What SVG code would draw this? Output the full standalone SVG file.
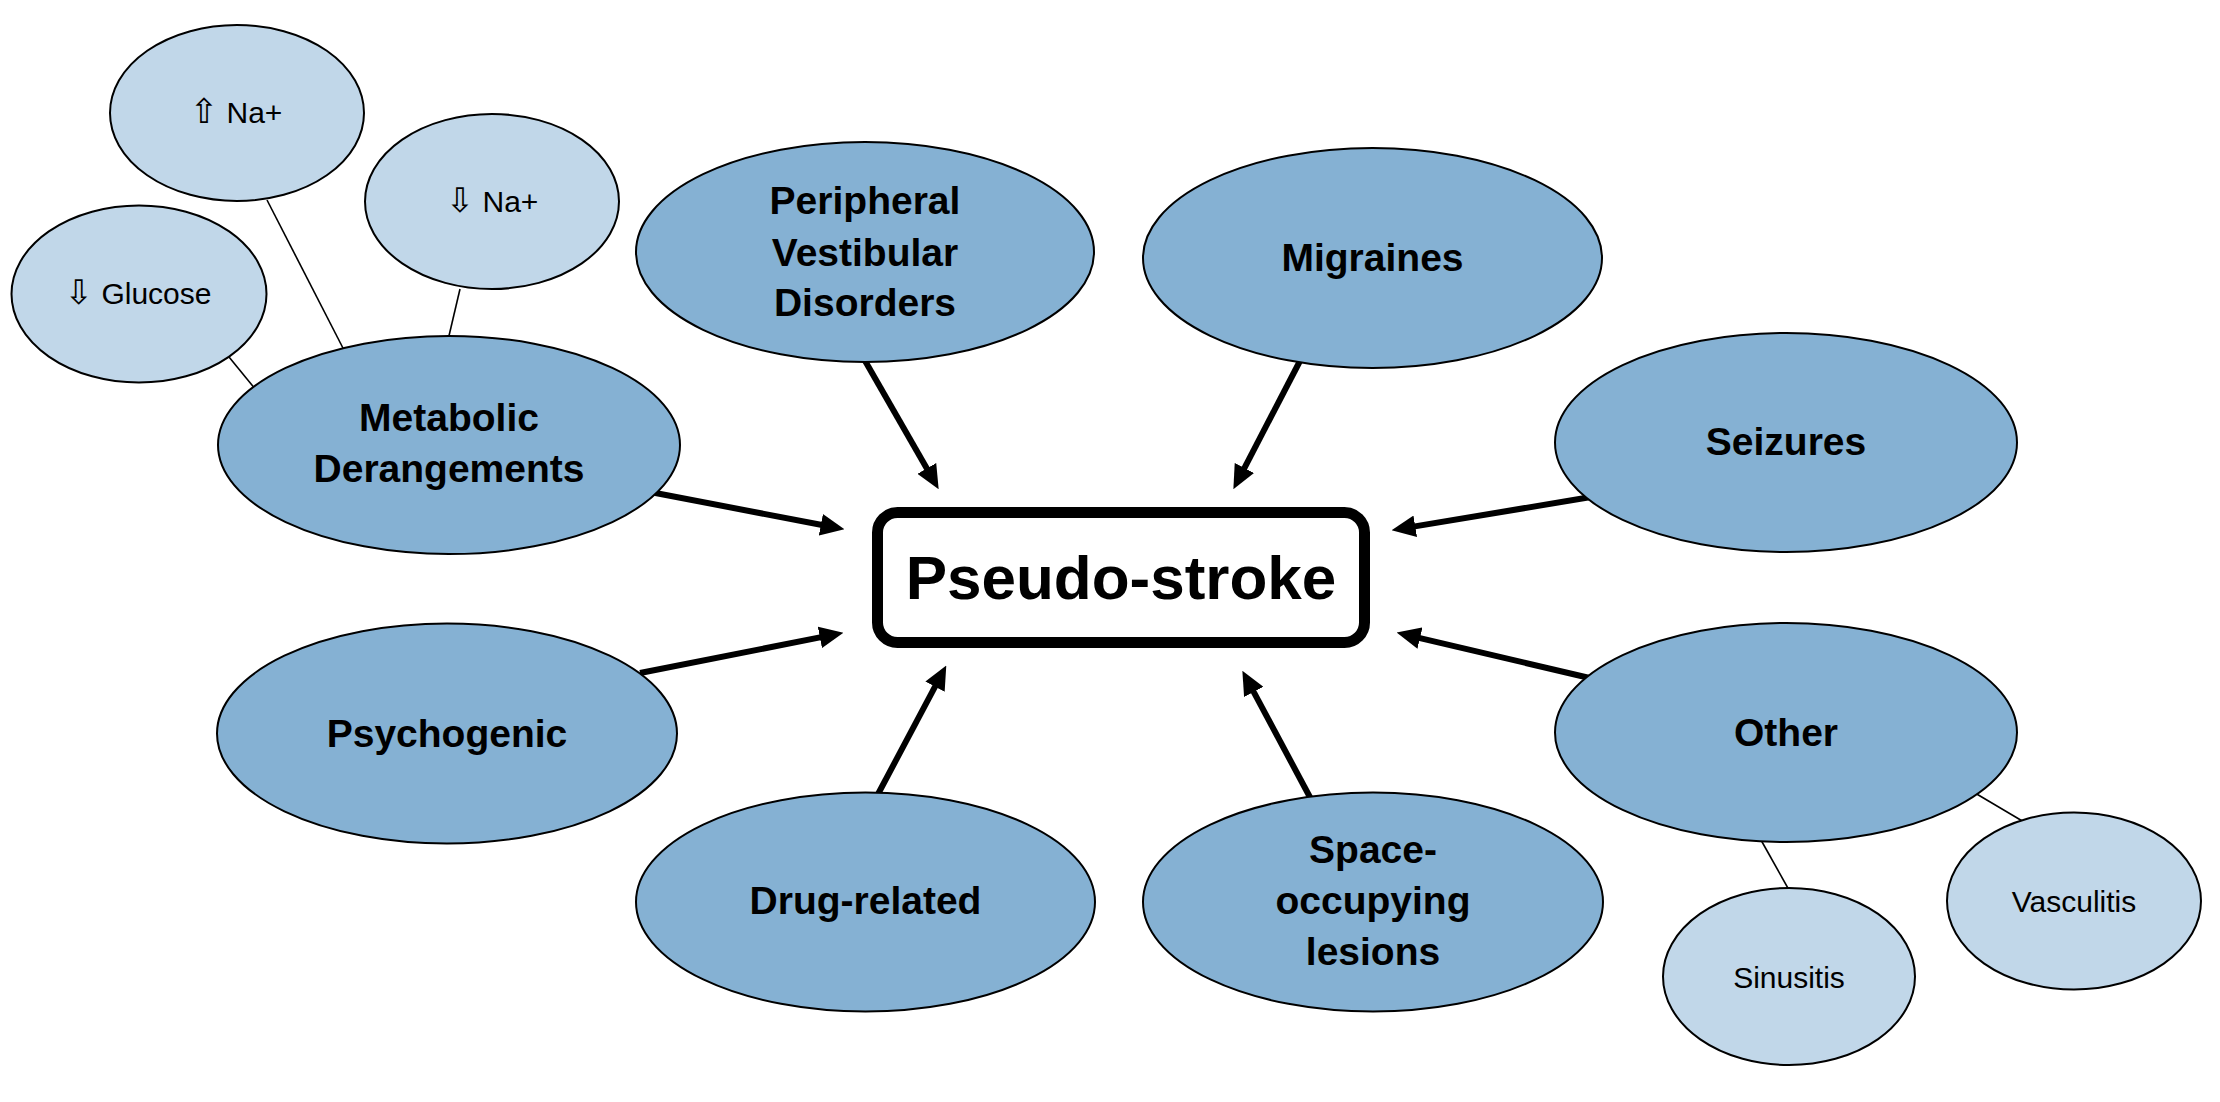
<svg xmlns="http://www.w3.org/2000/svg" width="2220" height="1102" viewBox="0 0 2220 1102">
<style>
.main{fill:#85B1D3;stroke:#000;stroke-width:2}
.sub{fill:#C1D7E9;stroke:#000;stroke-width:2}
.t{font-family:"Liberation Sans","DejaVu Sans",sans-serif;font-weight:bold;font-size:39px;fill:#000;text-anchor:middle}
.s{font-family:"Liberation Sans","DejaVu Sans",sans-serif;font-size:30px;fill:#000;text-anchor:middle}
.g{font-family:"DejaVu Sans",sans-serif;font-size:34px}
.arrow{stroke:#000;stroke-width:6;fill:none}
.thin{stroke:#000;stroke-width:1.6;fill:none}
</style>
<defs>
<marker id="ah" markerUnits="userSpaceOnUse" markerWidth="24" markerHeight="22" viewBox="0 0 22 20" refX="6" refY="10" orient="auto">
<path d="M0,0 L22,10 L0,20 z" fill="#000"/>
</marker>
</defs>
<rect width="2220" height="1102" fill="#fff"/>
<g id="connectors">
<line class="thin" x1="267" y1="200" x2="345" y2="352"/>
<line class="thin" x1="460" y1="289" x2="448" y2="340"/>
<line class="thin" x1="229" y1="357" x2="256" y2="390"/>
<line class="thin" x1="1761" y1="840" x2="1789" y2="890"/>
<line class="thin" x1="1975" y1="793" x2="2024" y2="822"/>
<line class="arrow" x1="645" y1="491" x2="827.3" y2="526" marker-end="url(#ah)"/>
<line class="arrow" x1="640" y1="673" x2="826.3" y2="636.1" marker-end="url(#ah)"/>
<line class="arrow" x1="864" y1="359" x2="930" y2="474.1" marker-end="url(#ah)"/>
<line class="arrow" x1="1301" y1="359" x2="1241.4" y2="473.8" marker-end="url(#ah)"/>
<line class="arrow" x1="1597" y1="496" x2="1408.8" y2="527.4" marker-end="url(#ah)"/>
<line class="arrow" x1="1596" y1="679.5" x2="1413.6" y2="636.6" marker-end="url(#ah)"/>
<line class="arrow" x1="877" y1="796" x2="938.1" y2="680.9" marker-end="url(#ah)"/>
<line class="arrow" x1="1312" y1="801" x2="1250.6" y2="686.1" marker-end="url(#ah)"/>
</g>
<g id="n-na-up"><ellipse class="sub" cx="237" cy="113" rx="127" ry="88"/><text class="s" x="236" y="123"><tspan class="g">⇧</tspan> Na+</text></g>
<g id="n-na-down"><ellipse class="sub" cx="492" cy="201.5" rx="127" ry="87.5"/><text class="s" x="492" y="212"><tspan class="g">⇩</tspan> Na+</text></g>
<g id="n-glucose"><ellipse class="sub" cx="139" cy="294" rx="127.5" ry="88.5"/><text class="s" x="138" y="304"><tspan class="g">⇩</tspan> Glucose</text></g>
<g id="n-metabolic"><ellipse class="main" cx="449" cy="445" rx="231" ry="109"/><text class="t" x="449" y="431">Metabolic</text><text class="t" x="449" y="482">Derangements</text></g>
<g id="n-peripheral"><ellipse class="main" cx="865" cy="252" rx="229" ry="110"/><text class="t" x="865" y="214">Peripheral</text><text class="t" x="865" y="266">Vestibular</text><text class="t" x="865" y="316">Disorders</text></g>
<g id="n-migraines"><ellipse class="main" cx="1372.5" cy="258" rx="229.5" ry="110"/><text class="t" x="1372.5" y="271">Migraines</text></g>
<g id="n-seizures"><ellipse class="main" cx="1786" cy="442.5" rx="231" ry="109.5"/><text class="t" x="1786" y="455">Seizures</text></g>
<g id="n-other"><ellipse class="main" cx="1786" cy="732.5" rx="231" ry="109.5"/><text class="t" x="1786" y="746">Other</text></g>
<g id="n-psychogenic"><ellipse class="main" cx="447" cy="733.5" rx="230" ry="110"/><text class="t" x="447" y="747">Psychogenic</text></g>
<g id="n-drug"><ellipse class="main" cx="865.5" cy="902" rx="229.5" ry="109.5"/><text class="t" x="865.5" y="914">Drug-related</text></g>
<g id="n-space"><ellipse class="main" cx="1373" cy="902" rx="230" ry="109.5"/><text class="t" x="1373" y="862.5">Space-</text><text class="t" x="1373" y="914">occupying</text><text class="t" x="1373" y="964.5">lesions</text></g>
<g id="n-sinusitis"><ellipse class="sub" cx="1789" cy="976.5" rx="126" ry="88.5"/><text class="s" x="1789" y="988">Sinusitis</text></g>
<g id="n-vasculitis"><ellipse class="sub" cx="2074" cy="901" rx="127" ry="88.5"/><text class="s" x="2074" y="912">Vasculitis</text></g>
<g id="n-pseudo"><rect x="877.5" y="512.5" width="487" height="130" rx="20" ry="20" fill="#fff" stroke="#000" stroke-width="11"/><text class="t" x="1121" y="599" style="font-size:62px">Pseudo-stroke</text></g>
</svg>
